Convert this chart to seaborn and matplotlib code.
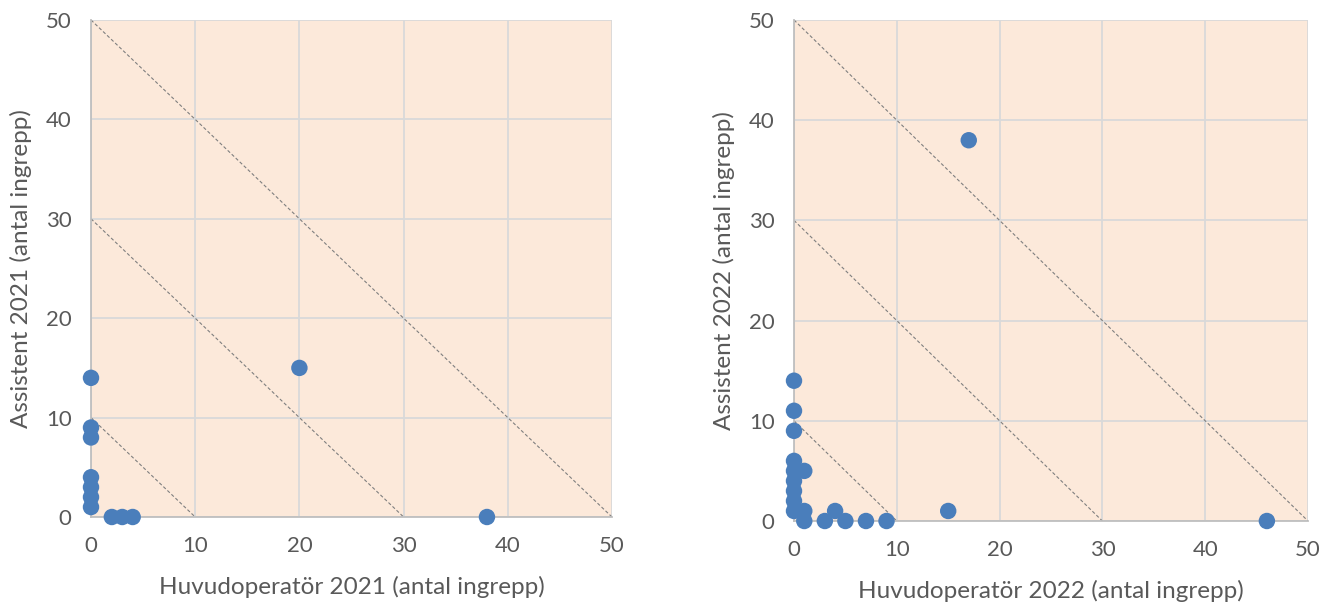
import matplotlib
matplotlib.use('Agg')
import matplotlib.pyplot as plt
import seaborn as sns
import pandas as pd

# 2021
main_2021 = [0, 0, 0, 0, 0, 0, 0, 2, 3, 4, 20, 38]
asst_2021 = [14, 9, 8, 4, 3, 2, 1, 0, 0, 0, 15, 0]

# 2022
main_2022 = [0, 0, 0, 0, 0, 1, 0, 0, 0, 0, 1, 1, 3, 4, 5, 7, 9, 15, 17, 46]
asst_2022 = [14, 11, 9, 6, 5, 5, 4, 3, 2, 1, 1, 0, 0, 1, 0, 0, 0, 1, 38, 0]

diag_levels = [10, 30, 50]
ticks = [0, 10, 20, 30, 40, 50]

BG = '#FCE9DA'
DOT = '#4A7EBB'
GRID = '#D9D9D9'
TXT = '#595959'

sns.set_style('white')
plt.rcParams['font.family'] = ['Lato', 'DejaVu Sans']

fig = plt.figure(figsize=(13.41, 6.04), dpi=100)
ax1 = fig.add_axes([91/1341, 1 - 517/604, 521/1341, 497/604])
ax2 = fig.add_axes([794/1341, 1 - 521/604, 514/1341, 501/604])

panels = [
    (ax1, main_2021, asst_2021, 'Huvudoperatör 2021 (antal ingrepp)', 'Assistent 2021 (antal ingrepp)'),
    (ax2, main_2022, asst_2022, 'Huvudoperatör 2022 (antal ingrepp)', 'Assistent 2022 (antal ingrepp)'),
]

for ax, xs, ys, xl, yl in panels:
    df = pd.DataFrame({'x': xs, 'y': ys})
    ax.set_facecolor(BG)
    ax.set_xlim(0, 50)
    ax.set_ylim(0, 50)
    ax.set_xticks(ticks)
    ax.set_yticks(ticks)
    ax.grid(True, color=GRID, linewidth=1.3)
    ax.set_axisbelow(True)
    for c in diag_levels:
        ax.plot([0, c], [c, 0], linestyle=(0, (3, 2)), color='#7F7F7F', linewidth=0.8, zorder=2)
    sns.scatterplot(data=df, x='x', y='y', ax=ax, color=DOT, s=140, edgecolor='none',
                    clip_on=False, zorder=3, legend=False)
    for side in ['top', 'right']:
        ax.spines[side].set_visible(False)
    for side in ['left', 'bottom']:
        ax.spines[side].set_color('#BFBFBF')
        ax.spines[side].set_linewidth(1.3)
    ax.tick_params(axis='both', length=8, width=1.3, color=GRID, labelsize=16,
                   labelcolor=TXT, pad=6)
    ax.set_xlabel(xl, fontsize=17.5, color=TXT, labelpad=14)
    ax.set_ylabel(yl, fontsize=17.5, color=TXT, labelpad=10)

fig.savefig('out.png', dpi=100)
